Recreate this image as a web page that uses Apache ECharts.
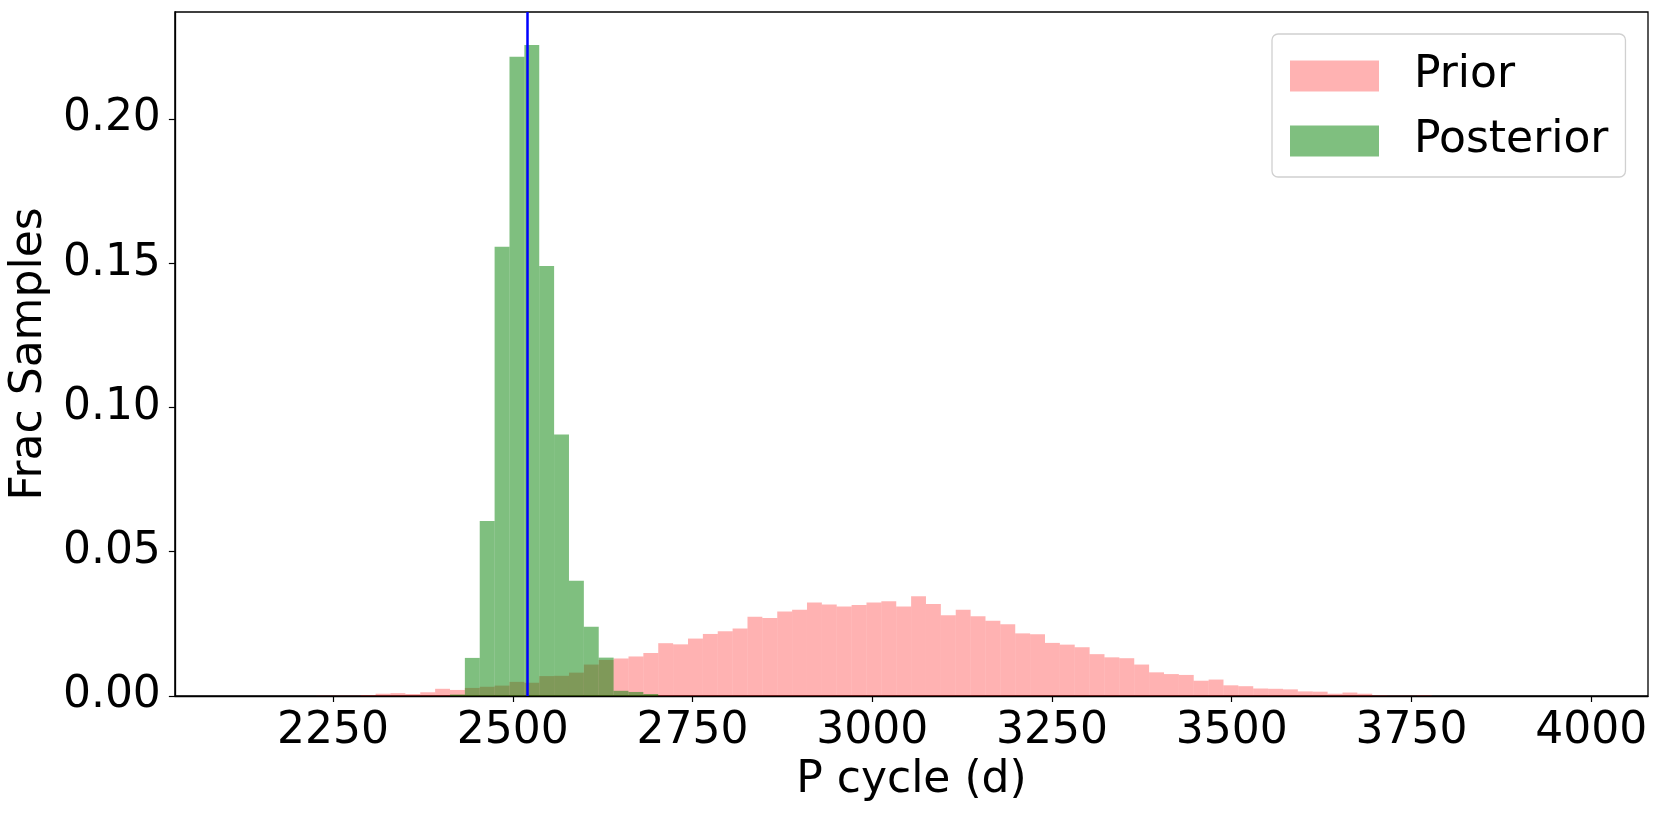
<!DOCTYPE html>
<html>
<head>
<meta charset="utf-8">
<script src="https://cdn.jsdelivr.net/npm/echarts@6/dist/echarts.min.js"></script>
<style>
html,body{margin:0;padding:0;background:#fff;}
#chart{width:1661px;height:814px;}
</style>
</head>
<body>
<div id="chart"></div>
<script>
// Histogram bins (shared by both distributions), in days
const binStart = 2123;
const binWidth = 20.69;

// Fraction of prior samples per bin (90 bins)
const prior = [
  0, 0, 0, 0, 0, 0.0001, 0.0001, 0.0001,
  0.0003, 0.0008, 0.0010, 0.0007, 0.0013, 0.0025, 0.0021,
  0.0028, 0.0032, 0.0036, 0.0049, 0.0046, 0.0069, 0.0070, 0.0081, 0.0109, 0.0125,
  0.0130, 0.0137, 0.0149, 0.0183, 0.0179, 0.0199, 0.0215, 0.0224, 0.0234, 0.0275, 0.0270, 0.0293, 0.0299,
  0.0324, 0.0317, 0.0310, 0.0315, 0.0324, 0.0328, 0.0310, 0.0346, 0.0319, 0.0280, 0.0299, 0.0276, 0.0261,
  0.0249, 0.0217, 0.0214, 0.0184, 0.0178, 0.0169, 0.0145, 0.0134, 0.0131, 0.0109, 0.0082, 0.0076, 0.0073,
  0.0053, 0.0057, 0.0037, 0.0034, 0.0026, 0.0025, 0.0023, 0.0016, 0.0015, 0.0008, 0.0012, 0.0008,
  0.0002, 0.0001, 0.0001, 0.0002,
  0, 0, 0, 0, 0, 0, 0, 0, 0, 0
];

// Fraction of posterior samples per bin (90 bins)
const posterior = [
  0, 0, 0, 0, 0, 0, 0, 0, 0, 0, 0, 0, 0, 0,
  0.0005, 0.0132, 0.0606, 0.1557, 0.2215, 0.2256, 0.1490, 0.0906, 0.0399, 0.0240, 0.0133, 0.0018, 0.0014, 0.0007,
  0, 0, 0, 0, 0, 0, 0, 0, 0, 0, 0, 0, 0, 0, 0, 0, 0, 0, 0, 0, 0, 0, 0, 0, 0, 0,
  0, 0, 0, 0, 0, 0, 0, 0, 0, 0, 0, 0, 0, 0, 0, 0, 0, 0, 0, 0, 0, 0, 0, 0, 0, 0,
  0, 0, 0, 0, 0, 0, 0, 0, 0, 0, 0, 0, 0, 0
];

// Reference period (vertical line)
const refPeriod = 2520;

// Axis ticks
const xTicks = [2250, 2500, 2750, 3000, 3250, 3500, 3750, 4000];
const yTicks = [0, 0.05, 0.10, 0.15, 0.20];
const xRange = [2030, 4079];
const yRange = [0, 0.237];

const FONT = 'DejaVu Sans';
const FS = 44;

function toBins(arr) {
  const out = [];
  arr.forEach((v, i) => {
    if (v > 0) out.push([binStart + i * binWidth, binStart + (i + 1) * binWidth, v]);
  });
  return out;
}

function renderBar(color) {
  return function (params, api) {
    const p0 = api.coord([api.value(0), api.value(2)]);
    const p1 = api.coord([api.value(1), 0]);
    return {
      type: 'rect',
      shape: { x: p0[0], y: p0[1], width: p1[0] - p0[0], height: p1[1] - p0[1] },
      style: { fill: color }
    };
  };
}

const priorColor = 'rgba(255,0,0,0.3)';
const postColor = 'rgba(0,128,0,0.5)';

const chart = echarts.init(document.getElementById('chart'), null, { renderer: 'canvas' });
chart.setOption({
  animation: false,
  backgroundColor: '#fff',
  grid: {
    left: 172, right: 13, top: 12, bottom: 118,
    show: true, borderColor: '#000', borderWidth: 1.3, backgroundColor: 'transparent'
  },
  legend: {
    orient: 'vertical',
    left: 1272, top: 34,
    padding: [20, 17, 14, 18],
    itemWidth: 89, itemHeight: 31, itemGap: 21,
    backgroundColor: 'rgba(255,255,255,0.8)',
    borderColor: '#d0d0d0', borderWidth: 1.3, borderRadius: 6,
    textStyle: { fontFamily: FONT, fontSize: FS, color: '#000', lineHeight: 31, padding: [0, 0, 0, 30] },
    data: [{ name: 'Prior', icon: 'rect' }, { name: 'Posterior', icon: 'rect' }]
  },
  xAxis: {
    type: 'value', min: xRange[0], max: xRange[1],
    name: 'P cycle (d)', nameLocation: 'middle', nameGap: 59,
    nameTextStyle: { fontFamily: FONT, fontSize: FS, color: '#000' },
    axisLine: { show: true, onZero: false, lineStyle: { color: '#000', width: 1.3 } },
    axisTick: { show: true, inside: false, length: 6, lineStyle: { color: '#000', width: 1.2 }, customValues: xTicks },
    axisLabel: { fontFamily: FONT, fontSize: FS, color: '#000', margin: 14, customValues: xTicks,
      formatter: v => String(Math.round(v)) },
    splitLine: { show: false }
  },
  yAxis: {
    type: 'value', min: yRange[0], max: yRange[1],
    name: 'Frac Samples', nameLocation: 'middle', nameGap: 112,
    nameTextStyle: { fontFamily: FONT, fontSize: FS, color: '#000' },
    axisLine: { show: true, lineStyle: { color: '#000', width: 1.3 } },
    axisTick: { show: true, inside: false, length: 6, lineStyle: { color: '#000', width: 1.2 }, customValues: yTicks },
    axisLabel: { fontFamily: FONT, fontSize: FS, color: '#000', margin: 14, customValues: yTicks,
      formatter: v => v.toFixed(2) },
    splitLine: { show: false }
  },
  series: [
    {
      name: 'Prior', type: 'custom', renderItem: renderBar(priorColor),
      itemStyle: { color: priorColor },
      encode: { x: [0, 1], y: 2 },
      data: toBins(prior), z: 2
    },
    {
      name: 'Posterior', type: 'custom', renderItem: renderBar(postColor),
      itemStyle: { color: postColor },
      encode: { x: [0, 1], y: 2 },
      data: toBins(posterior), z: 3,
      markLine: {
        silent: true, symbol: ['none', 'none'], label: { show: false },
        lineStyle: { color: '#0000ff', width: 2.5, type: 'solid' },
        data: [{ xAxis: refPeriod }]
      }
    }
  ]
});
</script>
</body>
</html>
